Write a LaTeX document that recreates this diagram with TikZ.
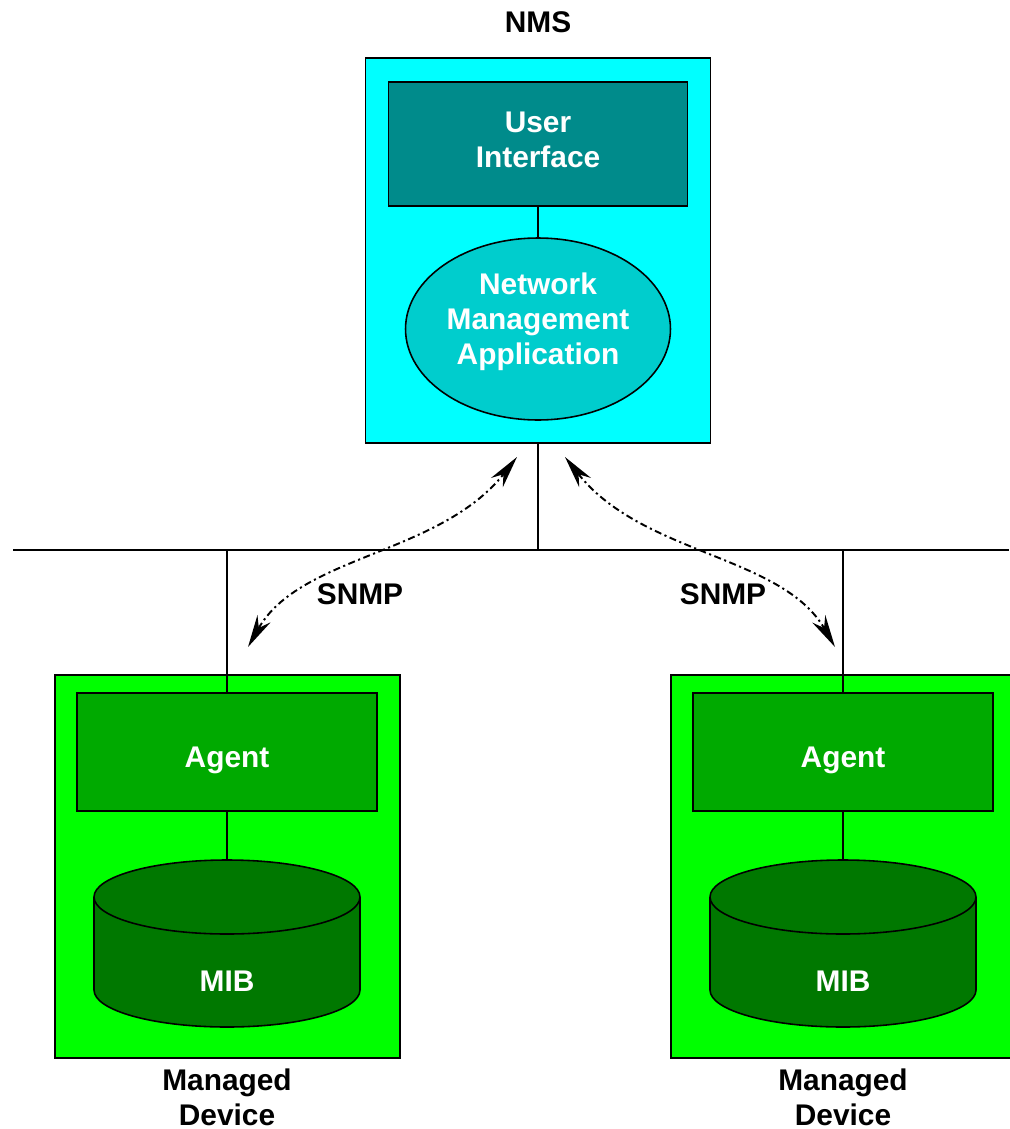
\documentclass[tikz,border=0pt]{standalone}
\usepackage{fontspec}
\setmainfont{Liberation Sans}
\usetikzlibrary{arrows.meta, shapes.geometric}
\definecolor{nmscyan}{HTML}{00FFFF}
\definecolor{uiteal}{HTML}{008B8B}
\definecolor{appturq}{HTML}{00CDCD}
\definecolor{devgreen}{HTML}{00FF00}
\definecolor{agentgreen}{HTML}{00AA00}
\definecolor{mibgreen}{HTML}{007800}

\begin{document}
\begin{tikzpicture}[
  x=0.02cm, y=0.02cm,
  lbl/.style={font=\fontsize{17}{20}\selectfont\bfseries, align=center},
  wlbl/.style={lbl, text=white},
  box/.style={draw=black, line width=0.9pt, inner sep=0pt},
  wire/.style={black, line width=1pt},
  snmp/.style={{Stealth[length=6.5mm, width=3mm]}-{Stealth[length=6.5mm, width=3mm]},
    line width=1.1pt, dash pattern=on 4pt off 2pt on 1.2pt off 2pt},
]
\useasboundingbox (0,0) rectangle (1009,-1129);

% ══════════════════════════════════════════════════════
% NMS
% ══════════════════════════════════════════════════════
\node[lbl] (nmslbl) at (538,-22) {NMS};
\node[box, fill=nmscyan, minimum width=6.9cm, minimum height=7.7cm]
  (nms) at (538,-250.5) {};
\node[box, fill=uiteal, minimum width=5.98cm, minimum height=2.48cm]
  (ui) at (538,-144) {};
\node[wlbl] (uilbl) at (538,-140) {User\\Interface};
\node[box, ellipse, fill=appturq, minimum width=5.3cm, minimum height=3.64cm]
  (nma) at (538,-329) {};
\node[wlbl] (nmalbl) at (538,-322) {Network\\Management\\Application};
\draw[wire] (ui.south) -- (nma.north);

% ══════════════════════════════════════════════════════
% Network (bus)
% ══════════════════════════════════════════════════════
\coordinate (busL) at (13,-550);
\coordinate (busR) at (1009,-550);
\coordinate (tapN) at (538,-550);
\draw[wire] (busL) -- (busR);
\draw[wire] (nms.south) -- (tapN);

% ══════════════════════════════════════════════════════
% Managed devices (agent + MIB)
% ══════════════════════════════════════════════════════
\foreach \cx/\side in {227/L, 843/R}{
  \node[box, fill=devgreen, minimum width=6.9cm, minimum height=7.66cm]
    (dev\side) at (\cx+0.5,-866.5) {};
  \node[box, fill=agentgreen, minimum width=6cm, minimum height=2.36cm]
    (agent\side) at (\cx,-752) {};
  \node[wlbl] (agentlbl\side) at (\cx,-760) {Agent};
  % MIB cylinder
  \fill[mibgreen] (\cx-133,-897) -- (\cx-133,-990)
    arc[start angle=180, end angle=360, x radius=133, y radius=37]
    -- (\cx+133,-897)
    arc[start angle=0, end angle=180, x radius=133, y radius=37] -- cycle;
  \draw[black, line width=0.9pt] (\cx-133,-897) -- (\cx-133,-990)
    arc[start angle=180, end angle=360, x radius=133, y radius=37]
    -- (\cx+133,-897);
  \draw[black, line width=0.9pt] (\cx,-897) ellipse[x radius=133, y radius=37];
  \coordinate (mibtop\side) at (\cx,-860);
  \node[wlbl] (mib\side) at (\cx,-981) {MIB};
  \coordinate (tap\side) at (\cx,-550);
  \draw[wire] (tap\side) -- (agent\side.north);
  \draw[wire] (agent\side.south) -- (mibtop\side);
  \node[lbl] (name\side) at (\cx,-1097) {Managed\\Device};
}

% ══════════════════════════════════════════════════════
% SNMP exchanges
% ══════════════════════════════════════════════════════
\coordinate (snmpLlo) at (248,-647);
\coordinate (snmpLhi) at (517,-457);
\coordinate (snmpRhi) at (565,-457);
\coordinate (snmpRlo) at (835,-647);
\draw[snmp] (snmpLlo) .. controls (300,-555) and (440,-555) .. (snmpLhi);
\draw[snmp] (snmpRhi) .. controls (642,-555) and (782,-555) .. (snmpRlo);
\node[lbl] (snmpL) at (360,-594) {SNMP};
\node[lbl] (snmpR) at (723,-594) {SNMP};

\end{tikzpicture}
\end{document}
